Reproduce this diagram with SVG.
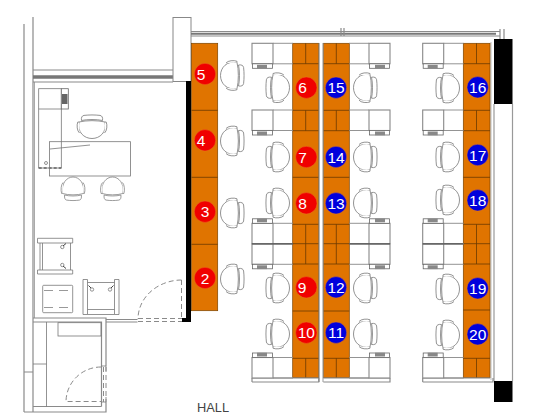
<svg xmlns="http://www.w3.org/2000/svg" xmlns:xlink="http://www.w3.org/1999/xlink" width="560" height="420" viewBox="0 0 560 420">
<style>
.w{fill:none;stroke:#8a8a8a;stroke-width:1.200}
.t{fill:none;stroke:#777;stroke-width:.8}
.d{fill:none;stroke:#8a8a8a;stroke-width:1;stroke-dasharray:5 3}
.o{fill:#e07400;stroke:#7a4300;stroke-width:.7}
.ol{stroke:#6a3a00;stroke-width:.8;fill:none}
.c{stroke:#e8781e;stroke-width:.5}
.r{fill:#f00000}
.b{fill:#0000dc}
.n{fill:#fff;font:15.5px "Liberation Sans",Arial,sans-serif;text-anchor:middle}
</style>
<defs>
<g id="chair" fill="#fff" stroke="#777" stroke-width=".8">
<path d="M5,-13C-5,-15 -11.500,-8 -11.500,0C-11.500,8 -5,15 5,13C6.800,6 6.800,-6 5,-13Z"/>
<path d="M6.500,-10.500C9.500,-11 11.300,-10 11.600,-8C12.200,-3 12.200,3 11.600,8C11.300,10 9.500,11 6.500,10.500C7.800,5 7.800,-5 6.500,-10.500Z"/>
<path d="M-6,-12.500C-4,-15 2,-15.500 5,-14.200L5,-13M-6,12.500C-4,15 2,15.500 5,14.200L5,13"/>
</g>
<g id="desk">
<rect x="0" y="0" width="21" height="20.500" fill="#fff" stroke="#888" stroke-width="1.100"/>
<path d="M21,0H41M21,20.500H41" stroke="#888" stroke-width=".9" fill="none"/>
<rect x=".5" y="20.500" width="20" height="4.500" fill="#fff" stroke="#666" stroke-width=".8"/>
<rect x="5" y="21.500" width="10" height="3.800" fill="#888"/>
</g>
</defs>
<rect width="560" height="420" fill="#fff"/>

<g id="walls">
<path class="w" d="M24,24V412M33,17V412"/>
<path d="M34.500,82V318" stroke="#aaa" fill="none"/>
<path class="w" d="M33,70H173M33,82H173"/>
<path d="M33,77H173" stroke="#777" stroke-width="3.500" fill="none"/>
<rect x="173" y="17.500" width="18" height="64" fill="#fff" stroke="#888"/>
<path class="w" d="M191,31.500H500M191,36H500"/>
<path d="M191,33.700H496" stroke="#777" stroke-width="2" fill="none"/>
<path class="w" d="M341,28V36M344,28V36M500,29V39M504,29V39"/>
<path fill="#000" d="M186,81H191V322H182V318H186Z"/>
<rect x="494" y="39" width="18.500" height="65" fill="#000"/>
<rect x="494" y="381" width="18.500" height="21" fill="#000"/>
<path d="M494,104V381M512.500,104V381" stroke="#999" stroke-width="1.200" fill="none"/>
<path d="M491,42V380" stroke="#bbb" stroke-width="1" fill="none"/>
<path class="w" d="M33,318H106V366M33,322H101.500V406.500M101.500,322V366M106,402V412H24M33,406.500H101.500M24,372H33"/>
<path class="w" d="M106,319.500H137.500M106,322H137.500"/>
<path class="t" d="M46.500,322V406.500M33,364H46.500"/>
<path class="t" d="M101.500,366H106V371M101.500,402H106V397"/>
<path class="d" d="M101,367A35,35 0 0 0 66,401.500H101M103.500,367V402M106,367V402"/>
<path class="d" d="M181.500,280A44,39 0 0 0 138,319M138,318.500H182M138,321.500H182M181.500,280V318"/>
</g>

<g id="office">
<rect class="t" x="38.700" y="88.700" width="22.600" height="79.300"/>
<path class="t" d="M38.700,109H61.300"/>
<rect x="61.300" y="88.700" width="7" height="20.300" fill="#fff" stroke="#666" stroke-width=".8"/>
<rect x="62" y="94" width="5.500" height="10" fill="#666"/>
<path d="M38.700,168H61.300" stroke="#333" stroke-width="1" stroke-dasharray="3 2" fill="none"/>
<rect class="t" x="49.500" y="141.700" width="81" height="34.300"/>
<path class="t" d="M50,149L90,145"/>
<circle class="t" cx="46" cy="163" r="1.500"/>
<use xlink:href="#chair" href="#chair" transform="translate(92,127) rotate(-90)"/>
<use xlink:href="#chair" href="#chair" transform="translate(73,188.500) rotate(90) scale(1,.8)"/>
<use xlink:href="#chair" href="#chair" transform="translate(112.500,188.500) rotate(90) scale(1,.8)"/>
<path class="t" d="M37.500,238.300H72.700V243H37.500ZM37.500,270H72.700V274H37.500ZM40,243V270M42.500,243V270M70.500,243V270"/>
<circle class="t" cx="62.300" cy="247" r="1.700"/><circle class="t" cx="62.300" cy="265" r="1.700"/>
<path d="M63,246L66,243.500M63,266L66,268.500" stroke="#444" fill="none"/>
<rect class="t" x="42.700" y="285.300" width="30" height="27.400" rx="1"/>
<path d="M44,290.500H72M44,307.500H72" stroke="#999" stroke-dasharray="9 6" fill="none"/>
<path class="t" d="M83,279.500H87.500V314.500H83ZM114.500,279.500H119V314.500H114.500ZM87.500,309.500H114.500M87.500,314.500H114.500M87.500,282.500H114.500"/>
<circle class="t" cx="92" cy="289.500" r="1.700"/><circle class="t" cx="110" cy="289.500" r="1.700"/>
<path d="M91,288L88.500,285.500M111,288L113.500,285.500" stroke="#444" fill="none"/>
<rect class="t" x="58" y="322.700" width="43" height="13.300"/>
</g>

<g id="benches">
<rect class="o" x="191.500" y="43.300" width="26.200" height="267.400"/>
<path class="ol" d="M191.500,110.300H217.700M191.500,177.300H217.700M191.500,244.300H217.700"/>
<g id="col-b">
<rect class="o" x="292.700" y="43.300" width="26" height="334.400"/>
<path class="ol" d="M292.700,63.700H318.700M292.700,110.300H318.700M292.700,130.700H318.700M292.700,177.300H318.700M292.700,224.300H318.700M292.700,243.700H318.700M292.700,264H318.700M292.700,311H318.700M292.700,358.300H318.700M305.700,43.300V63.700M305.700,110.300V130.700M305.700,224.300V264M305.700,358.300V377.700"/>
</g>
<g id="col-c">
<rect class="o" x="323.300" y="43.300" width="26" height="334.400"/>
<path class="ol" d="M323.300,63.700H349.300M323.300,110.300H349.300M323.300,130.700H349.300M323.300,177.300H349.300M323.300,224.300H349.300M323.300,243.700H349.300M323.300,264H349.300M323.300,311H349.300M323.300,358.300H349.300M336.300,43.300V63.700M336.300,110.300V130.700M336.300,224.300V264M336.300,358.300V377.700"/>
</g>
<g id="col-d">
<rect class="o" x="463.300" y="43.300" width="26.700" height="334.400"/>
<path class="ol" d="M463.300,63.700H490M463.300,110.300H490M463.300,130.700H490M463.300,177.300H490M463.300,224.300H490M463.300,243.700H490M463.300,264H490M463.300,310H490M463.300,358.300H490M476.500,43.300V63.700M476.500,110.300V130.700M476.500,224.300V264M476.500,358.300V377.700"/>
</g>
<path d="M319.200,43V382M323,43V382" stroke="#999" fill="none"/>
<path class="w" d="M252,378H318.700M252,382H318.700V378M323.300,378H390M323.300,382H390V378M422.700,378H490M422.700,382H493V378M252,378V382M422.700,378V382"/>

<g id="desks">
<use xlink:href="#desk" href="#desk" transform="translate(252,43.300)"/>
<use xlink:href="#desk" href="#desk" transform="translate(252,110)"/>
<use xlink:href="#desk" href="#desk" transform="translate(252,243.800)"/>
<use xlink:href="#desk" href="#desk" transform="translate(252,243.800) scale(1,-1)"/>
<use xlink:href="#desk" href="#desk" transform="translate(252,378) scale(1,-1)"/>
<use xlink:href="#desk" href="#desk" transform="translate(390,43.300) scale(-1,1)"/>
<use xlink:href="#desk" href="#desk" transform="translate(390,110) scale(-1,1)"/>
<use xlink:href="#desk" href="#desk" transform="translate(390,243.800) scale(-1,1)"/>
<use xlink:href="#desk" href="#desk" transform="translate(390,243.800) scale(-1,-1)"/>
<use xlink:href="#desk" href="#desk" transform="translate(390,378) scale(-1,-1)"/>
<use xlink:href="#desk" href="#desk" transform="translate(422.700,43.300)"/>
<use xlink:href="#desk" href="#desk" transform="translate(422.700,110)"/>
<use xlink:href="#desk" href="#desk" transform="translate(422.700,243.800)"/>
<use xlink:href="#desk" href="#desk" transform="translate(422.700,243.800) scale(1,-1)"/>
<use xlink:href="#desk" href="#desk" transform="translate(422.700,378) scale(1,-1)"/>
</g>
<path d="M252,243.800H293M349,243.800H390M422.700,243.800H463.300" stroke="#555" stroke-width="1.200" fill="none"/>
</g>

<g id="chairs">
<use xlink:href="#chair" href="#chair" transform="translate(232,75.500)"/>
<use xlink:href="#chair" href="#chair" transform="translate(232,141)"/>
<use xlink:href="#chair" href="#chair" transform="translate(232,213)"/>
<use xlink:href="#chair" href="#chair" transform="translate(232,279)"/>
<use xlink:href="#chair" href="#chair" transform="translate(278,87.700) scale(-1,1)"/>
<use xlink:href="#chair" href="#chair" transform="translate(278,157) scale(-1,1)"/>
<use xlink:href="#chair" href="#chair" transform="translate(278,203) scale(-1,1)"/>
<use xlink:href="#chair" href="#chair" transform="translate(278,288) scale(-1,1)"/>
<use xlink:href="#chair" href="#chair" transform="translate(278,334) scale(-1,1)"/>
<use xlink:href="#chair" href="#chair" transform="translate(365,87.700)"/>
<use xlink:href="#chair" href="#chair" transform="translate(365,157)"/>
<use xlink:href="#chair" href="#chair" transform="translate(365,203)"/>
<use xlink:href="#chair" href="#chair" transform="translate(365,288)"/>
<use xlink:href="#chair" href="#chair" transform="translate(365,334)"/>
<use xlink:href="#chair" href="#chair" transform="translate(448,88) scale(-1,1)"/>
<use xlink:href="#chair" href="#chair" transform="translate(448,157) scale(-1,1)"/>
<use xlink:href="#chair" href="#chair" transform="translate(448,200) scale(-1,1)"/>
<use xlink:href="#chair" href="#chair" transform="translate(448,289) scale(-1,1)"/>
<use xlink:href="#chair" href="#chair" transform="translate(448,335) scale(-1,1)"/>
</g>

<g id="seat-2"><circle class="r c" cx="205" cy="278" r="10.700"/><text class="n" x="205" y="283.500">2</text></g>
<g id="seat-3"><circle class="r c" cx="205" cy="211.700" r="10.700"/><text class="n" x="205" y="217.200">3</text></g>
<g id="seat-4"><circle class="r c" cx="205" cy="140.300" r="10.700"/><text class="n" x="201" y="145.800">4</text></g>
<g id="seat-5"><circle class="r c" cx="205" cy="74" r="10.700"/><text class="n" x="201" y="79.500">5</text></g>
<g id="seat-6"><circle class="r c" cx="306.300" cy="87.700" r="10.700"/><text class="n" x="302.500" y="93.200">6</text></g>
<g id="seat-7"><circle class="r c" cx="306.300" cy="157" r="10.700"/><text class="n" x="302.500" y="162.500">7</text></g>
<g id="seat-8"><circle class="r c" cx="306.300" cy="203.300" r="10.700"/><text class="n" x="302.500" y="208.800">8</text></g>
<g id="seat-9"><circle class="r c" cx="306.300" cy="287.300" r="10.700"/><text class="n" x="302" y="292.800">9</text></g>
<g id="seat-10"><circle class="r c" cx="306.300" cy="332.700" r="10.700"/><text class="n" x="306.300" y="338.200">10</text></g>
<g id="seat-11"><circle class="b c" cx="336" cy="332.700" r="10.700"/><text class="n" x="336" y="338.200">11</text></g>
<g id="seat-12"><circle class="b c" cx="336" cy="287.300" r="10.700"/><text class="n" x="336" y="292.800">12</text></g>
<g id="seat-13"><circle class="b c" cx="336" cy="203.300" r="10.700"/><text class="n" x="336" y="208.800">13</text></g>
<g id="seat-14"><circle class="b c" cx="336" cy="157" r="10.700"/><text class="n" x="336" y="162.500">14</text></g>
<g id="seat-15"><circle class="b c" cx="336" cy="87.700" r="10.700"/><text class="n" x="336" y="93.200">15</text></g>
<g id="seat-16"><circle class="b c" cx="477.700" cy="87.300" r="10.700"/><text class="n" x="477.700" y="92.800">16</text></g>
<g id="seat-17"><circle class="b c" cx="477.700" cy="155" r="10.700"/><text class="n" x="477.700" y="160.500">17</text></g>
<g id="seat-18"><circle class="b c" cx="477.700" cy="200.300" r="10.700"/><text class="n" x="477.700" y="205.800">18</text></g>
<g id="seat-19"><circle class="b c" cx="477.700" cy="288.300" r="10.700"/><text class="n" x="477.700" y="293.800">19</text></g>
<g id="seat-20"><circle class="b c" cx="477.700" cy="334.300" r="10.700"/><text class="n" x="477.700" y="339.800">20</text></g>

<text x="197" y="411.500" font-family="Liberation Sans, Arial, sans-serif" font-size="12.800" fill="#444">HALL</text>
</svg>
